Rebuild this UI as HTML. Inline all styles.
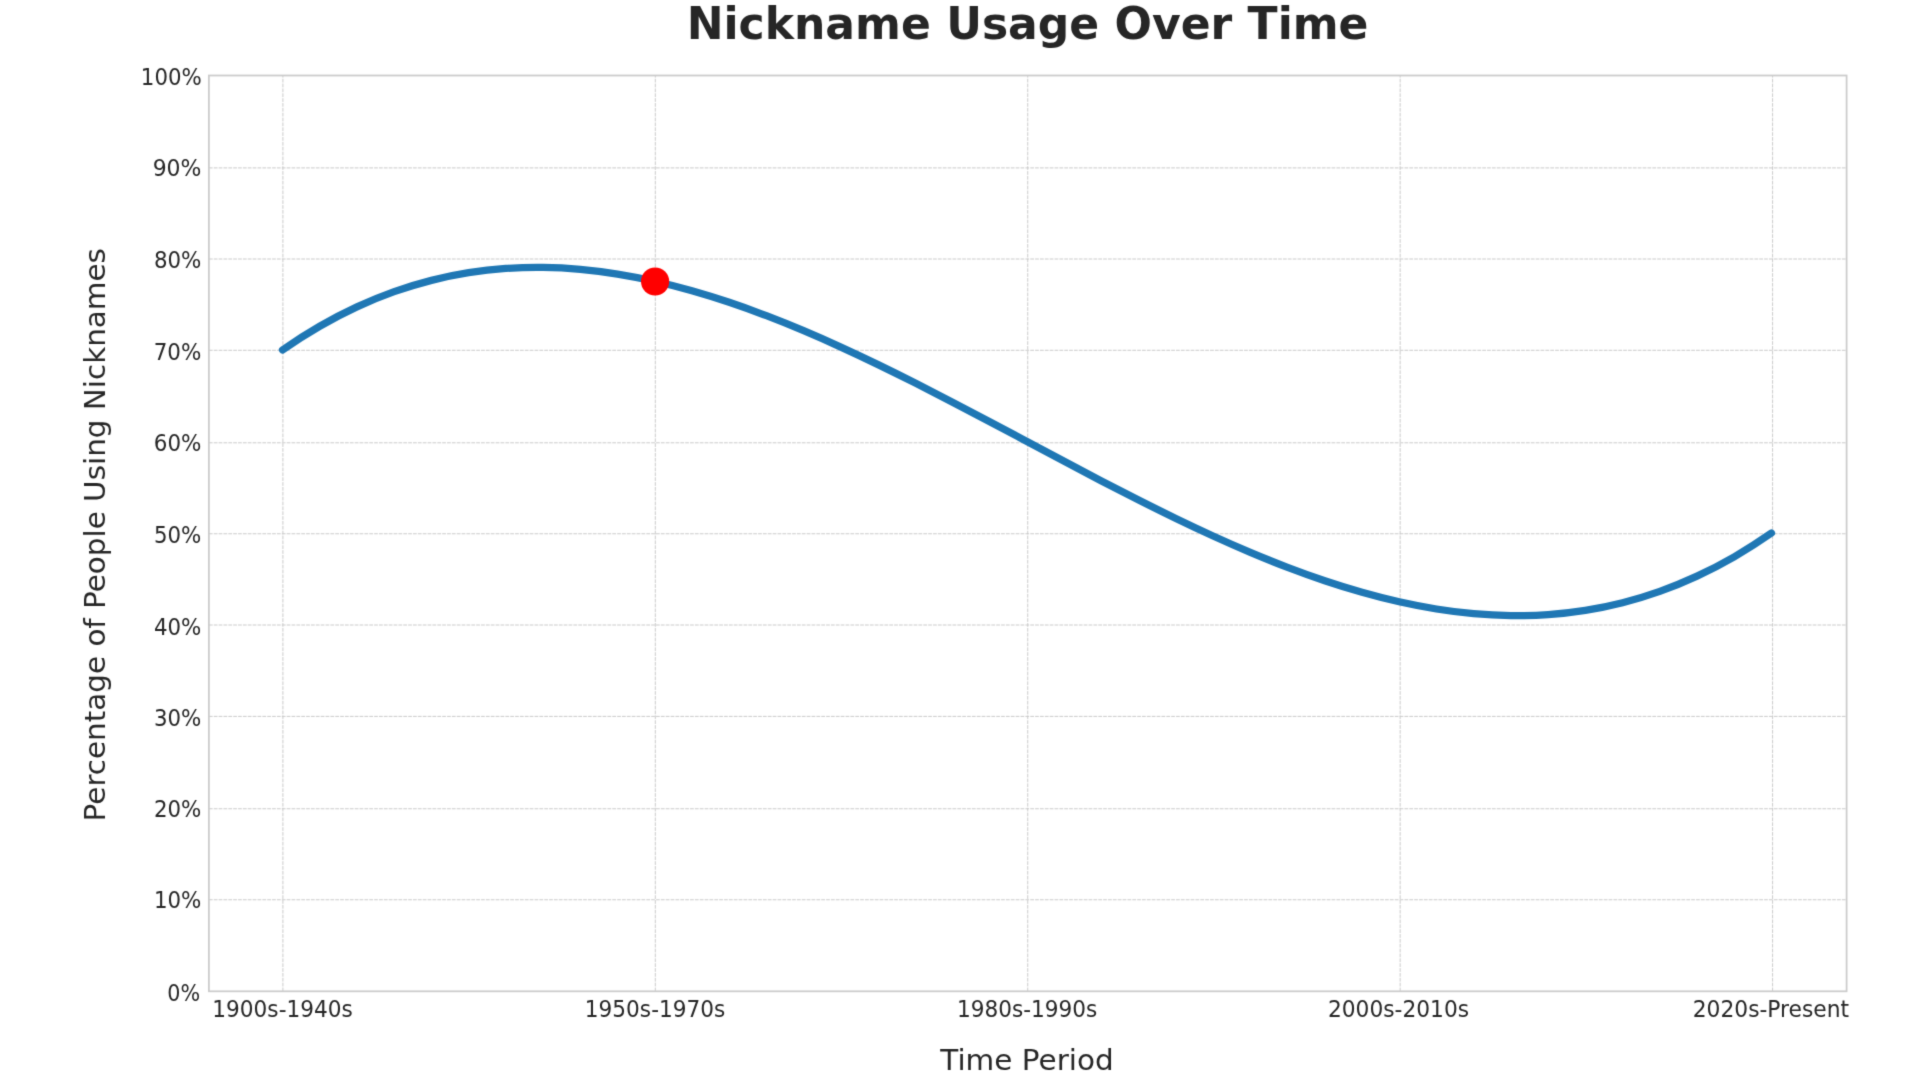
<!DOCTYPE html>
<html lang="en">
<head>
<meta charset="utf-8">
<title>Nickname Usage Over Time</title>
<style>
html,body{margin:0;padding:0;background:#ffffff;overflow:hidden;}
body{width:1920px;height:1080px;position:relative;}
svg{position:absolute;left:0;top:0;display:block;}
text{font-family:"DejaVu Sans","Liberation Sans",sans-serif;fill:#262626;}
.t{font-size:23.4px;}
.l{font-size:27.6px;}
.h{font-size:44.2px;font-weight:bold;}
</style>
</head>
<body>
<svg width="1920" height="1080" viewBox="0 0 1920 1080">
<defs><filter id="soft" x="0" y="0" width="1920" height="1080" filterUnits="userSpaceOnUse" color-interpolation-filters="sRGB"><feConvolveMatrix order="5" kernelMatrix="0.000000 0.000057 0.000315 0.000057 0.000000 0.000057 0.017644 0.097429 0.017644 0.000057 0.000315 0.097429 0.537992 0.097429 0.000315 0.000057 0.017644 0.097429 0.017644 0.000057 0.000000 0.000057 0.000315 0.000057 0.000000" divisor="1" edgeMode="duplicate" preserveAlpha="true"/></filter></defs>
<rect x="0" y="0" width="1920" height="1080" fill="#ffffff"/>
<g filter="url(#soft)">
<rect x="0" y="0" width="1920" height="1080" fill="#ffffff"/>

<g stroke="#c8c8c8" stroke-width="0.95" stroke-dasharray="3.75 1.11" fill="none">
<line x1="282.90" y1="991.30" x2="282.90" y2="75.50"/>
<line x1="655.32" y1="991.30" x2="655.32" y2="75.50"/>
<line x1="1027.74" y1="991.30" x2="1027.74" y2="75.50"/>
<line x1="1400.16" y1="991.30" x2="1400.16" y2="75.50"/>
<line x1="1772.58" y1="991.30" x2="1772.58" y2="75.50"/>
<line x1="208.90" y1="899.75" x2="1846.60" y2="899.75"/>
<line x1="208.90" y1="808.75" x2="1846.60" y2="808.75"/>
<line x1="208.90" y1="716.40" x2="1846.60" y2="716.40"/>
<line x1="208.90" y1="625.00" x2="1846.60" y2="625.00"/>
<line x1="208.90" y1="533.75" x2="1846.60" y2="533.75"/>
<line x1="208.90" y1="442.80" x2="1846.60" y2="442.80"/>
<line x1="208.90" y1="350.30" x2="1846.60" y2="350.30"/>
<line x1="208.90" y1="259.00" x2="1846.60" y2="259.00"/>
<line x1="208.90" y1="167.90" x2="1846.60" y2="167.90"/>
</g>
<path d="M282.50 349.94 C294.91 341.29 307.32 333.40 319.72 326.24 C332.13 319.08 344.54 312.65 356.95 306.90 C369.36 301.15 381.76 296.09 394.17 291.67 C406.58 287.26 418.99 283.49 431.40 280.34 C443.80 277.18 456.21 274.64 468.62 272.67 C481.03 270.70 493.44 269.30 505.84 268.43 C518.25 267.57 530.66 267.24 543.07 267.40 C555.48 267.57 567.88 268.23 580.29 269.35 C592.70 270.47 605.11 272.05 617.52 274.04 C629.92 276.04 642.33 278.46 654.74 281.25 C667.15 284.05 679.56 287.23 691.96 290.76 C704.37 294.28 716.78 298.15 729.19 302.32 C741.60 306.49 754.00 310.97 766.41 315.71 C778.82 320.46 791.23 325.47 803.64 330.71 C816.04 335.95 828.45 341.42 840.86 347.08 C853.27 352.74 865.68 358.59 878.08 364.59 C890.49 370.60 902.90 376.75 915.31 383.02 C927.72 389.29 940.12 395.68 952.53 402.14 C964.94 408.60 977.35 415.14 989.76 421.72 C1002.16 428.29 1014.57 434.91 1026.98 441.52 C1039.39 448.13 1051.80 454.75 1064.20 461.32 C1076.61 467.90 1089.02 474.44 1101.43 480.90 C1113.84 487.36 1126.24 493.75 1138.65 500.02 C1151.06 506.29 1163.47 512.44 1175.88 518.45 C1188.28 524.45 1200.69 530.30 1213.10 535.96 C1225.51 541.62 1237.92 547.09 1250.32 552.33 C1262.73 557.57 1275.14 562.58 1287.55 567.33 C1299.96 572.07 1312.36 576.55 1324.77 580.72 C1337.18 584.89 1349.59 588.76 1362.00 592.28 C1374.40 595.81 1386.81 598.99 1399.22 601.79 C1411.63 604.58 1424.04 607.00 1436.44 609.00 C1448.85 610.99 1461.26 612.57 1473.67 613.69 C1486.08 614.81 1498.48 615.47 1510.89 615.64 C1523.30 615.80 1535.71 615.47 1548.12 614.61 C1560.52 613.74 1572.93 612.34 1585.34 610.37 C1597.75 608.40 1610.16 605.86 1622.56 602.70 C1634.97 599.55 1647.38 595.78 1659.79 591.37 C1672.20 586.95 1684.60 581.89 1697.01 576.14 C1709.42 570.39 1721.83 563.96 1734.24 556.80 C1746.64 549.64 1759.05 541.75 1771.46 533.10" fill="none" stroke="#1f77b4" stroke-width="7.3" stroke-linecap="round" stroke-linejoin="round"/>
<circle cx="655.10" cy="281.50" r="14.1" fill="#ff0000"/>
<rect x="208.90" y="75.50" width="1637.70" height="915.80" fill="none" stroke="#cbcbcb" stroke-width="1.75"/>
<text class="t" transform="translate(140.82 85.05) scale(0.9111 1)">100%</text>
<text class="t" transform="translate(152.63 176.35) scale(0.9377 1)">90%</text>
<text class="t" transform="translate(153.92 267.55) scale(0.9124 1)">80%</text>
<text class="t" transform="translate(153.74 359.85) scale(0.9160 1)">70%</text>
<text class="t" transform="translate(153.76 451.35) scale(0.9154 1)">60%</text>
<text class="t" transform="translate(153.96 542.55) scale(0.9116 1)">50%</text>
<text class="t" transform="translate(154.00 634.85) scale(0.9108 1)">40%</text>
<text class="t" transform="translate(153.96 726.35) scale(0.9116 1)">30%</text>
<text class="t" transform="translate(153.96 817.20) scale(0.9116 1)">20%</text>
<text class="t" transform="translate(153.91 908.20) scale(0.9125 1)">10%</text>
<text class="t" transform="translate(167.31 1000.70) scale(0.8844 1)">0%</text>
<text class="t" transform="translate(212.29 1016.55) scale(0.9251 1)">1900s-1940s</text>
<text class="t" transform="translate(584.79 1016.55) scale(0.9251 1)">1950s-1970s</text>
<text class="t" transform="translate(957.04 1016.55) scale(0.9244 1)">1980s-1990s</text>
<text class="t" transform="translate(1327.93 1016.55) scale(0.9291 1)">2000s-2010s</text>
<text class="t" transform="translate(1692.67 1016.55) scale(0.9317 1)">2020s-Present</text>
<text class="l" transform="translate(940.29 1070.00) scale(1.0682 1)">Time Period</text>
<text class="l" transform="translate(105.40 821.40) rotate(-90) scale(1.0657 1)">Percentage of People Using Nicknames</text>
<text class="h" transform="translate(686.64 39.00) scale(0.9967 1)">Nickname Usage Over Time</text>
</g>
</svg>
</body>
</html>
